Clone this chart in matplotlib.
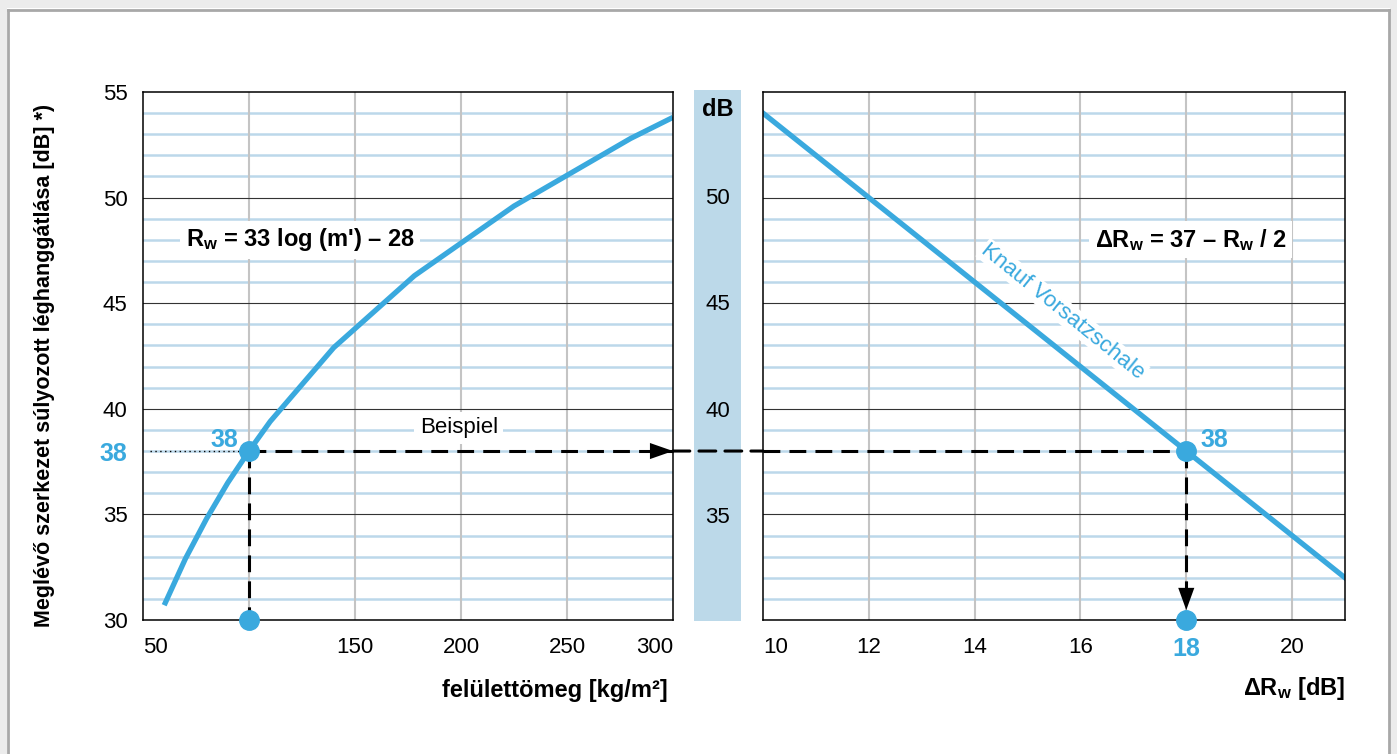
import matplotlib.pyplot as plt
import matplotlib as mpl
from matplotlib.patches import Rectangle, ConnectionPatch
from matplotlib.lines import Line2D

# colours
curve_blue = '#3aa9de'
grid_blue = '#bcd8ea'
strip_blue = '#bcd9e9'
grid_grey = '#c4c4c4'
frame_grey = '#a8a8a8'
band_grey = '#ececec'

FONT = ['Liberation Sans', 'DejaVu Sans']
mpl.rcParams.update({
    'font.family': FONT,
    'font.size': 16,
    'mathtext.fontset': 'custom',
    'mathtext.rm': 'Liberation Sans:bold',
    'mathtext.it': 'Liberation Sans:bold',
    'mathtext.bf': 'Liberation Sans:bold',
})

# data
mass = [60, 70, 80, 90, 100, 110, 140, 178, 225, 280, 300]
rw_left = [30.7, 32.9, 34.8, 36.5, 38.0, 39.4, 42.9, 46.3, 49.6, 52.8, 53.8]
delta_rw = [10, 21]
rw_right = [54.0, 32.0]
example_mass = 100
example_rw = 38
example_delta = 18

y_ticks = [30, 35, 40, 45, 50, 55]
mass_ticks = [50, 150, 200, 250, 300]
mass_grid = [100, 150, 200, 250]
delta_ticks = [10, 12, 14, 16, 18, 20]
delta_grid = [12, 14, 16, 18, 20]
strip_ticks = [50, 45, 40, 35]

W, H = 1397, 754
fig = plt.figure(figsize=(W / 100, H / 100), dpi=100)
fig.patch.set_facecolor('white')

# grey frame round the figure
fig.add_artist(Rectangle((0, 1 - 8 / H), 1, 8 / H, transform=fig.transFigure,
                         facecolor=band_grey, edgecolor='none', zorder=-5))
fig.add_artist(Rectangle((0, 0), 7 / W, 1, transform=fig.transFigure,
                         facecolor=band_grey, edgecolor='none', zorder=-5))
fig.add_artist(Rectangle((1390 / W, 0), 7 / W, 1, transform=fig.transFigure,
                         facecolor=band_grey, edgecolor='none', zorder=-5))
for xs, ys in [([8 / W, 1389 / W], [1 - 9.5 / H] * 2),
               ([8 / W] * 2, [0, 1 - 9.5 / H]),
               ([1389 / W] * 2, [0, 1 - 9.5 / H])]:
    fig.add_artist(Line2D(xs, ys, transform=fig.transFigure, color=frame_grey, lw=2))


def px_axes(x0, x1, y0, y1):
    return fig.add_axes([x0 / W, 1 - y1 / H, (x1 - x0) / W, (y1 - y0) / H])


ax_l = px_axes(143, 673, 92, 620)
ax_m = px_axes(694, 741, 90, 621)
ax_r = px_axes(763, 1345, 92, 620)


def draw_grid(ax, vgrid):
    for y in range(31, 55):
        if y % 5:
            ax.axhline(y, color=grid_blue, lw=1.8, zorder=1)
    for y in y_ticks[1:-1]:
        ax.axhline(y, color='#333333', lw=0.8, zorder=1.2)
    for x in vgrid:
        ax.axvline(x, color=grid_grey, lw=1.5, zorder=1.1)
    for s in ax.spines.values():
        s.set_linewidth(1.1)
        s.set_zorder(5)
    ax.set_ylim(30, 55)


white_box = dict(facecolor='white', edgecolor='none', pad=4)

# ---- left panel
draw_grid(ax_l, mass_grid)
ax_l.set_xlim(50, 300)
ax_l.plot(mass, rw_left, color=curve_blue, lw=3.8, zorder=3, solid_capstyle='butt')
ax_l.set_xticks(mass_ticks)
ax_l.set_xticklabels([str(t) for t in mass_ticks])
xl = ax_l.get_xticklabels()
xl[0].set_ha('left')
xl[-1].set_ha('right')
ax_l.set_yticks(y_ticks[:2] + [example_rw] + y_ticks[2:])
ax_l.set_yticklabels(['30', '35', '38', '40', '45', '50', '55'])
lab38 = ax_l.get_yticklabels()[2]
lab38.set_color(curve_blue)
lab38.set_fontweight('bold')
lab38.set_fontsize(18)
ax_l.tick_params(length=0, pad=11)
ax_l.tick_params(axis='x', pad=12)

ax_l.plot([53.5, example_mass], [example_rw, example_rw], color='black', lw=1,
          ls=(0, (1, 2.5)), zorder=3)
ax_l.plot([example_mass, 300], [example_rw, example_rw], color='black', lw=2.2,
          ls=(0, (5.5, 3)), zorder=4, clip_on=False)
ax_l.plot([example_mass, example_mass], [example_rw, 30], color='black', lw=2.2,
          ls=(0, (5.5, 3)), zorder=4, clip_on=False)
ax_l.annotate('', xy=(300, example_rw), xytext=(285, example_rw),
              arrowprops=dict(arrowstyle='-|>,head_length=0.83,head_width=0.29',
                              color='black', lw=0, mutation_scale=20,
                              shrinkA=0, shrinkB=0), zorder=6)
ax_l.plot([example_mass, example_mass], [example_rw, 30], 'o', color=curve_blue,
          ms=14, zorder=7, clip_on=False)
ax_l.text(95, 38.5, '38', color=curve_blue, fontweight='bold', fontsize=18,
          ha='right', va='center', zorder=8)
ax_l.text(124, 48.0, "R$_\\mathrm{w}$ = 33 log (m') – 28", fontweight='bold',
          fontsize=17, ha='center', va='center', bbox=white_box, zorder=6)
ax_l.text(199, 39.1, 'Beispiel', fontsize=16, ha='center', va='center',
          bbox=white_box, zorder=6)

# ---- middle dB strip
ax_m.set_facecolor(strip_blue)
ax_m.set_xlim(0, 1)
ax_m.set_ylim(30, 55)
ax_m.set_xticks([])
ax_m.set_yticks([])
for s in ax_m.spines.values():
    s.set_visible(False)
for t in strip_ticks:
    ax_m.text(0.5, t, str(t), ha='center', va='center_baseline', fontsize=16)
ax_m.text(0.5, 54.2, 'dB', ha='center', va='center_baseline', fontsize=17,
          fontweight='bold')

# ---- right panel
draw_grid(ax_r, delta_grid)
ax_r.set_xlim(10, 21)
ax_r.plot(delta_rw, rw_right, color=curve_blue, lw=3.8, zorder=3)
ax_r.set_xticks(delta_ticks)
ax_r.set_xticklabels([str(t) for t in delta_ticks])
xr = ax_r.get_xticklabels()
xr[0].set_ha('left')
xr[4].set_color(curve_blue)
xr[4].set_fontweight('bold')
xr[4].set_fontsize(18)
ax_r.set_yticks([])
ax_r.tick_params(length=0, pad=12)

ax_r.plot([10, example_delta], [example_rw, example_rw], color='black', lw=2.2,
          ls=(0, (5.5, 3)), zorder=4)
ax_r.plot([example_delta, example_delta], [example_rw, 31.2], color='black', lw=2.2,
          ls=(0, (5.5, 3)), zorder=4)
ax_r.annotate('', xy=(example_delta, 30.47), xytext=(example_delta, 31.5),
              arrowprops=dict(arrowstyle='-|>,head_length=0.8,head_width=0.29',
                              color='black', lw=0, mutation_scale=20,
                              shrinkA=0, shrinkB=0), zorder=6)
ax_r.plot([example_delta, example_delta], [example_rw, 30], 'o', color=curve_blue,
          ms=14, zorder=7, clip_on=False)
ax_r.text(18.27, 38.5, '38', color=curve_blue, fontweight='bold', fontsize=18,
          ha='left', va='center', zorder=8)
ax_r.text(18.08, 48.0, 'ΔR$_\\mathrm{w}$ = 37 – R$_\\mathrm{w}$ / 2', fontweight='bold',
          fontsize=17, ha='center', va='center', bbox=white_box, zorder=6)
ax_r.text(15.67, 44.6, 'Knauf Vorsatzschale', color=curve_blue, fontsize=16,
          rotation=-38.9, rotation_mode='anchor', ha='center', va='center',
          bbox=dict(facecolor='white', edgecolor='none', pad=1), zorder=6)

# dashed link across the strip
con = ConnectionPatch(xyA=(300, example_rw), coordsA=ax_l.transData,
                      xyB=(10, example_rw), coordsB=ax_r.transData,
                      color='black', lw=2.2, linestyle=(0, (5.5, 3)), zorder=3)
fig.add_artist(con)

# axis titles
fig.text(668 / W, 1 - 690 / H, 'felülettömeg [kg/m²]', ha='right', va='center',
         fontsize=17, fontweight='bold')
fig.text(1345 / W, 1 - 688 / H, 'ΔR$_\\mathrm{w}$ [dB]', ha='right', va='center',
         fontsize=17, fontweight='bold')
fig.text(45 / W, 1 - 365 / H, 'Meglévő szerkezet súlyozott léghanggátlása [dB] *)',
         rotation=90, ha='center', va='center', fontsize=15.5, fontweight='bold')

fig.savefig('out.png', dpi=100)
